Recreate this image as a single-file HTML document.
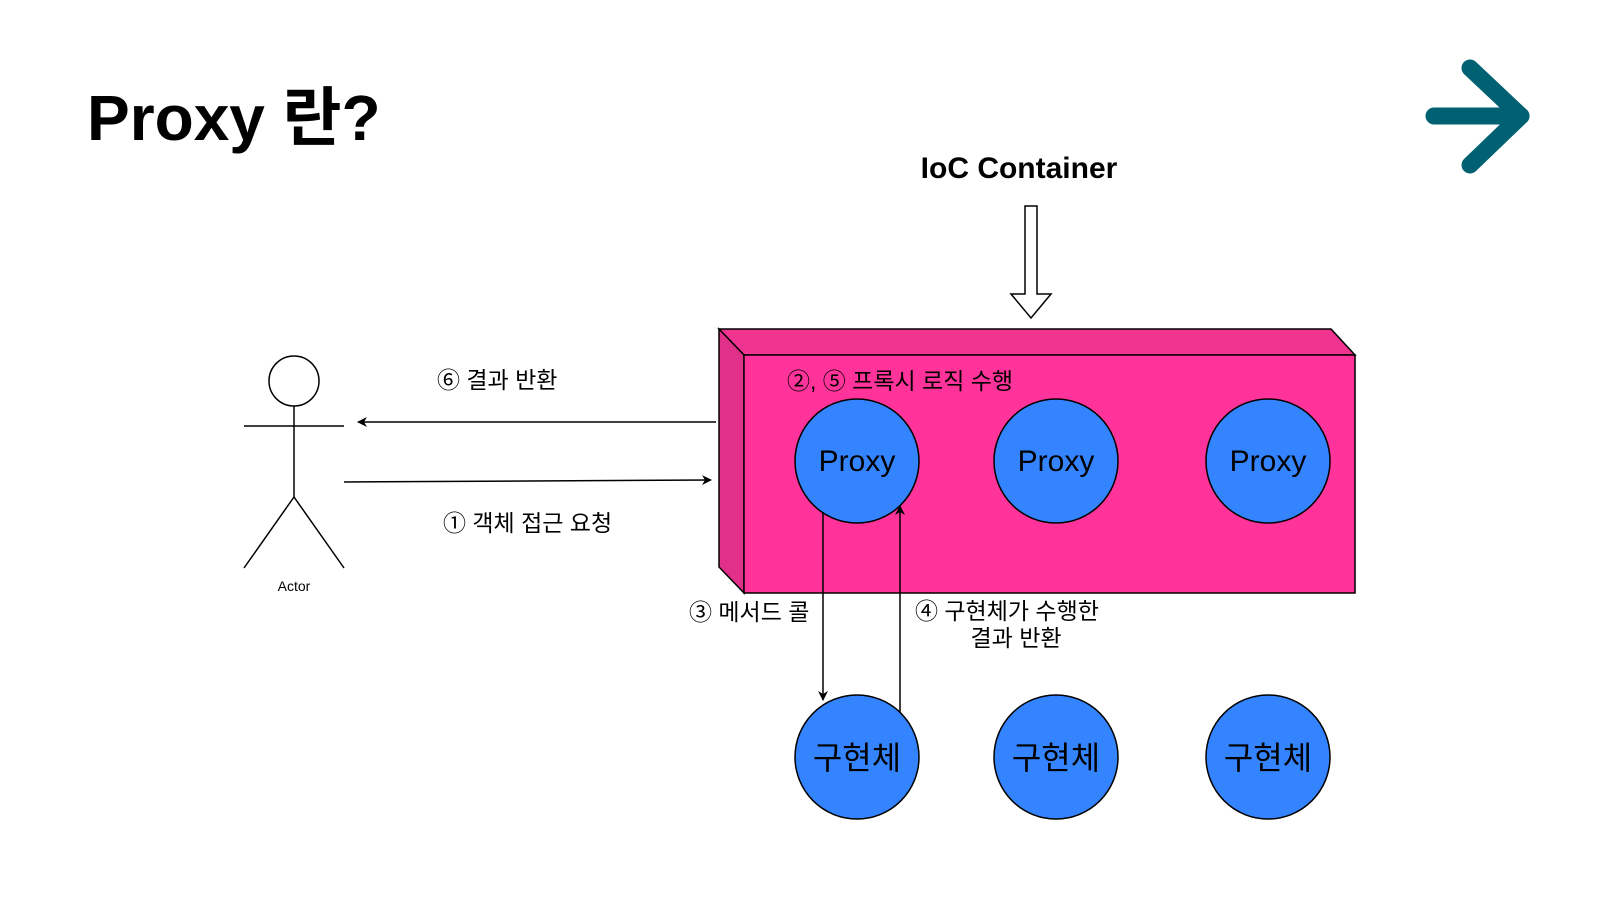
<!DOCTYPE html>
<html><head><meta charset="utf-8"><style>
html,body{margin:0;padding:0;background:#fff;width:1600px;height:900px;overflow:hidden}
svg text{font-family:"Liberation Sans","Noto Sans CJK KR",sans-serif}
</style></head><body>
<svg width="1600" height="900" viewBox="0 0 1600 900" xmlns="http://www.w3.org/2000/svg">
<defs>
<marker id="ah" viewBox="0 0 10 10" refX="9" refY="5" markerWidth="10" markerHeight="10" markerUnits="userSpaceOnUse" orient="auto">
<path d="M0,0 L10,5 L0,10 L3,5 Z" fill="#000"/></marker>
</defs>
<text x="87" y="140" font-size="64" font-weight="bold" fill="#000">Proxy 란?</text>
<g stroke="#006172" stroke-width="17" stroke-linecap="round" stroke-linejoin="round" fill="none">
<line x1="1434" y1="116" x2="1521" y2="116"/>
<polyline points="1470,68 1521,116 1470,165"/>
</g>
<text x="1019" y="178" font-size="30" font-weight="bold" text-anchor="middle">IoC Container</text>
<path d="M1025,206 H1037 V294 H1051 L1031,318 L1011,294 H1025 Z" fill="#fff" stroke="#000" stroke-width="1.5"/>
<polygon points="719,329 1331,329 1355,355 744,355" fill="#F03490" stroke="#000" stroke-width="1.5"/>
<polygon points="719,329 744,355 744,593 719,567" fill="#E0308A" stroke="#000" stroke-width="1.5"/>
<rect x="744" y="355" width="611" height="238" fill="#FF3399" stroke="#000" stroke-width="1.5"/>
<text x="787" y="389" font-size="23">②, ⑤ 프록시 로직 수행</text>
<g fill="#3584FF" stroke="#000" stroke-width="1.5">
<circle cx="857" cy="461" r="62"/><circle cx="1056" cy="461" r="62"/><circle cx="1268" cy="461" r="62"/>
<circle cx="857" cy="757" r="62"/><circle cx="1056" cy="757" r="62"/><circle cx="1268" cy="757" r="62"/>
</g>
<g text-anchor="middle">
<g font-size="30"><text x="857" y="471">Proxy</text><text x="1056" y="471">Proxy</text><text x="1268" y="471">Proxy</text></g>
<g font-size="32"><text x="857" y="769">구현체</text><text x="1056" y="769">구현체</text><text x="1268" y="769">구현체</text></g>
</g>
<g stroke="#000" stroke-width="1.5" fill="none">
<circle cx="294" cy="381" r="25" fill="#fff"/>
<line x1="244" y1="426" x2="344" y2="426"/>
<line x1="294" y1="406" x2="294" y2="497"/>
<polyline points="244,568 294,497 344,568"/>
</g>
<text x="294" y="591" font-size="14" text-anchor="middle">Actor</text>
<g stroke="#000" stroke-width="1.5">
<line x1="716" y1="422" x2="358" y2="422" marker-end="url(#ah)"/>
<line x1="344" y1="482" x2="711" y2="480" marker-end="url(#ah)"/>
<line x1="823" y1="512" x2="823" y2="700" marker-end="url(#ah)"/>
<line x1="900" y1="712" x2="900" y2="506" marker-end="url(#ah)"/>
</g>
<g font-size="23">
<text x="437" y="388">⑥ 결과 반환</text>
<text x="443" y="531">① 객체 접근 요청</text>
<text x="689" y="620">③ 메서드 콜</text>
<text x="915" y="619">④ 구현체가 수행한</text>
<text x="1016" y="646" text-anchor="middle">결과 반환</text>
</g>
</svg>
</body></html>
